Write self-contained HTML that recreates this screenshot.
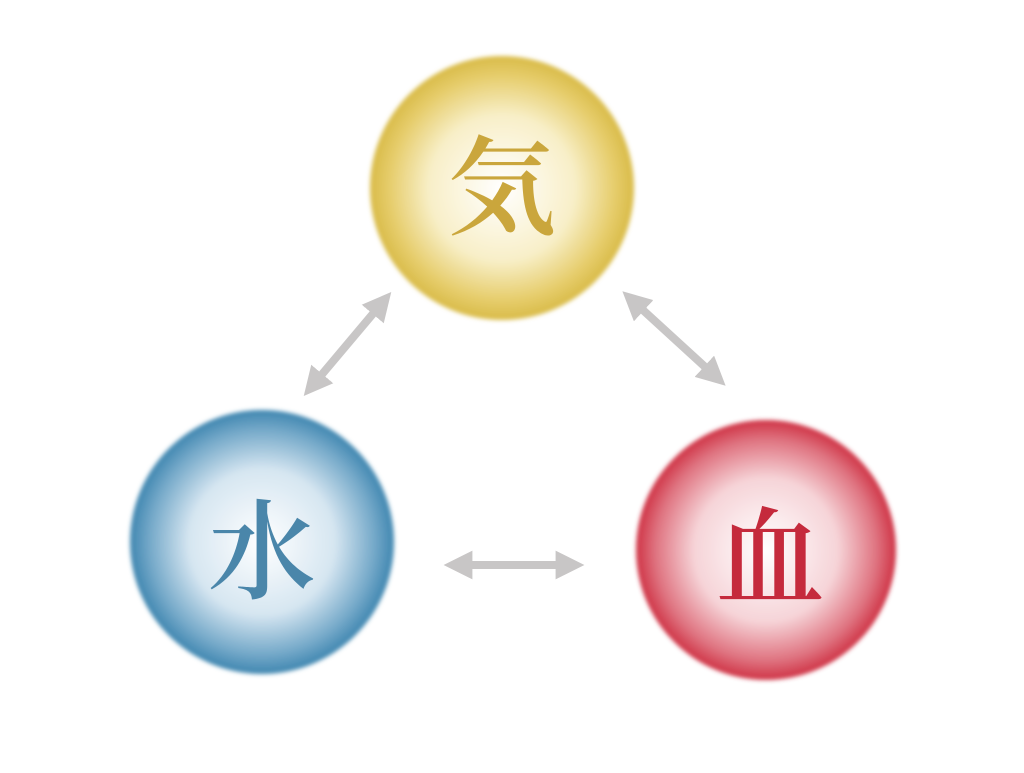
<!DOCTYPE html>
<html><head><meta charset="utf-8"><style>
body{margin:0;background:#fff;width:1024px;height:768px;overflow:hidden}
</style></head><body>
<svg width="1024" height="768" viewBox="0 0 1024 768" xmlns="http://www.w3.org/2000/svg">
<defs>
<radialGradient id="gy"><stop offset="0" stop-color="#ffffff"/><stop offset="0.55" stop-color="#f8efc8"/><stop offset="0.85" stop-color="#e6cd6c"/><stop offset="1" stop-color="#d9bb48"/></radialGradient>
<radialGradient id="gb"><stop offset="0" stop-color="#ffffff"/><stop offset="0.55" stop-color="#d6e6f1"/><stop offset="0.85" stop-color="#75a9c9"/><stop offset="1" stop-color="#3f86b0"/></radialGradient>
<radialGradient id="gr"><stop offset="0" stop-color="#ffffff"/><stop offset="0.55" stop-color="#f6d4d8"/><stop offset="0.85" stop-color="#df7380"/><stop offset="1" stop-color="#cf3345"/></radialGradient>
<filter id="soft"><feGaussianBlur stdDeviation="2"/></filter>
<marker id="ah" viewBox="0 0 10 10" refX="5" refY="5" markerWidth="3.6" markerHeight="3.6" orient="auto-start-reverse"><path d="M0,0 L10,5 L0,10 z" fill="#c8c6c6"/></marker>
</defs>
<circle cx="502" cy="188" r="132" fill="url(#gy)" filter="url(#soft)"/>
<circle cx="262" cy="542" r="132" fill="url(#gb)" filter="url(#soft)"/>
<circle cx="766" cy="550" r="130" fill="url(#gr)" filter="url(#soft)"/>
<g stroke="#c8c6c6" stroke-width="8" fill="none">
<line x1="382" y1="303" x2="313" y2="385" marker-start="url(#ah)" marker-end="url(#ah)"/>
<line x1="633" y1="301" x2="715" y2="376" marker-start="url(#ah)" marker-end="url(#ah)"/>
<line x1="458" y1="565" x2="570" y2="565" marker-start="url(#ah)" marker-end="url(#ah)"/>
</g>
<g font-family="'Noto Serif CJK JP','Noto Serif CJK SC',serif" font-weight="600" text-anchor="middle" font-size="108">
<text x="502" y="226" fill="#caa63c">気</text>
<text x="262" y="590" fill="#4a86aa">水</text>
<text x="770" y="596" fill="#c52a3c">血</text>
</g>
</svg>
</body></html>
